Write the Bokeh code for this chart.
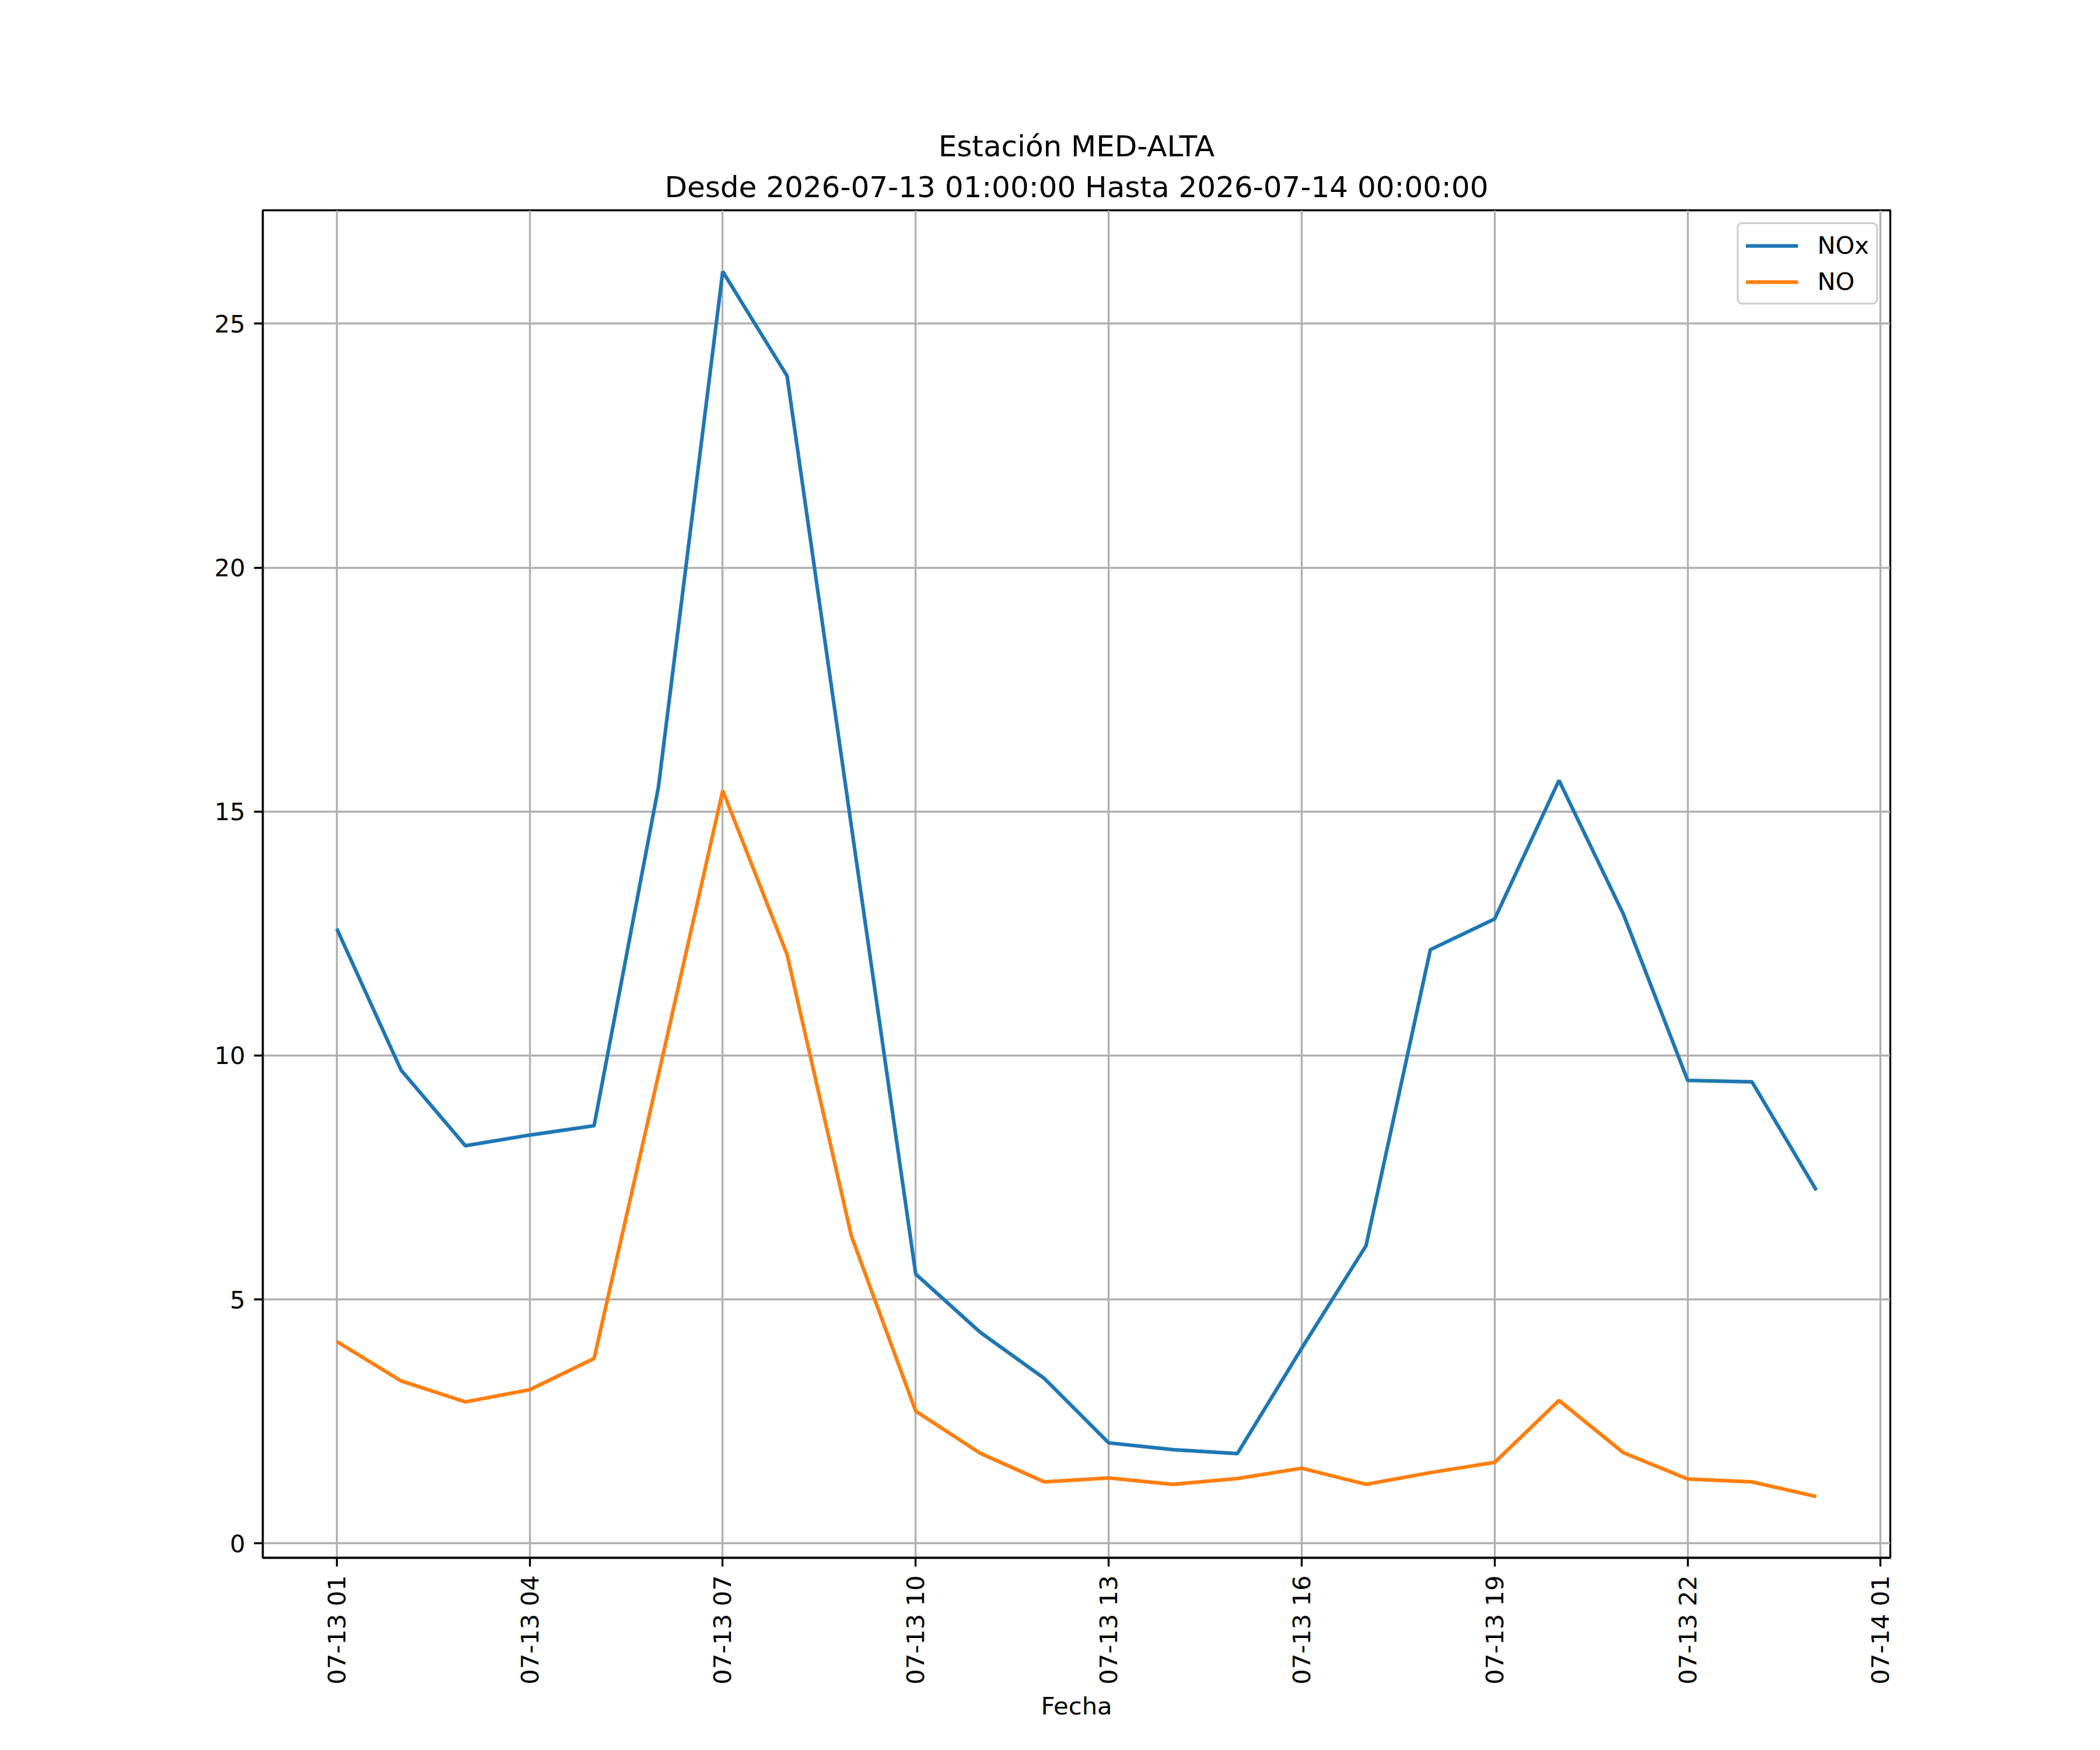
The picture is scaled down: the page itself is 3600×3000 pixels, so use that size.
import math
import pandas as pd
from bokeh.plotting import figure
from bokeh.models import (FixedTicker, DatetimeTickFormatter, Range1d, Title,
                          Legend, LegendItem, ColumnDataSource)
from bokeh.embed import file_html
from bokeh.resources import INLINE

# ---------------- data ----------------
times = [
    "2026-07-13 01:00", "2026-07-13 02:00", "2026-07-13 03:00", "2026-07-13 04:00",
    "2026-07-13 05:00", "2026-07-13 06:00", "2026-07-13 07:00", "2026-07-13 08:00",
    "2026-07-13 09:00", "2026-07-13 10:00", "2026-07-13 11:00", "2026-07-13 12:00",
    "2026-07-13 13:00", "2026-07-13 14:00", "2026-07-13 15:00", "2026-07-13 16:00",
    "2026-07-13 17:00", "2026-07-13 18:00", "2026-07-13 19:00", "2026-07-13 20:00",
    "2026-07-13 21:00", "2026-07-13 22:00", "2026-07-13 23:00", "2026-07-14 00:00",
]
nox = [12.6, 9.7, 8.15, 8.37, 8.56, 15.5, 26.07, 23.93, 14.7, 5.52, 4.33, 3.38,
       2.06, 1.92, 1.84, 4.0, 6.1, 12.17, 12.8, 15.64, 12.9, 9.49, 9.46, 7.24]
no = [4.14, 3.33, 2.9, 3.15, 3.79, 9.6, 15.43, 12.07, 6.3, 2.71, 1.85, 1.26,
      1.34, 1.21, 1.33, 1.54, 1.21, 1.45, 1.66, 2.93, 1.86, 1.32, 1.26, 0.96]
tick_times = ["2026-07-13 01:00", "2026-07-13 04:00", "2026-07-13 07:00",
              "2026-07-13 10:00", "2026-07-13 13:00", "2026-07-13 16:00",
              "2026-07-13 19:00", "2026-07-13 22:00", "2026-07-14 01:00"]
y_ticks = [0, 5, 10, 15, 20, 25]
series_names = ["NOx", "NO"]
title_line1 = "Estación MED-ALTA"
title_line2 = "Desde 2026-07-13 01:00:00 Hasta 2026-07-14 00:00:00"
x_label = "Fecha"

# ---------------- styling constants ----------------
FONT = "DejaVu Sans"
PX = 300 / 72.0          # matplotlib points -> pixels at 300 dpi
TICK_FS = f"{10 * PX:.2f}px"
TITLE_FS = f"{12 * PX:.2f}px"
BLUE = "#1f77b4"
ORANGE = "#ff7f0e"

t = pd.to_datetime(times)
src = ColumnDataSource(dict(t=t, nox=nox, no=no))

span_t = t.max() - t.min()
x0 = (t.min() - span_t * 0.05).to_pydatetime()
x1 = (t.max() + span_t * 0.05).to_pydatetime()
ymin = min(min(nox), min(no))
ymax = max(max(nox), max(no))
ypad = (ymax - ymin) * 0.05

p = figure(
    x_axis_type="datetime",
    frame_width=2790, frame_height=2310,
    min_border_left=450, min_border_right=350,
    min_border_top=360, min_border_bottom=320,
    x_range=Range1d(x0, x1), y_range=Range1d(ymin - ypad, ymax + ypad),
    output_backend="svg", toolbar_location=None, title=None,
    background_fill_color="white", border_fill_color="white",
)

r1 = p.line("t", "nox", source=src, line_color=BLUE, line_width=1.5 * PX)
r2 = p.line("t", "no", source=src, line_color=ORANGE, line_width=1.5 * PX)

# titles (inner line first, then outer)
p.add_layout(Title(text=title_line2, align="center", text_font=FONT,
                   text_font_size=TITLE_FS, text_font_style="normal",
                   text_color="black", text_line_height=0.8,
                   standoff=21), "above")
p.add_layout(Title(text=title_line1, align="center", text_font=FONT,
                   text_font_size=TITLE_FS, text_font_style="normal",
                   text_color="black", standoff=0), "above")

# axes
tick_ms = [int(v) for v in (pd.to_datetime(tick_times).astype("int64") // 10**6)]
p.xaxis.ticker = FixedTicker(ticks=tick_ms)
fmt = "%m-%d %H"
p.xaxis.formatter = DatetimeTickFormatter(
    microseconds=fmt, milliseconds=fmt, seconds=fmt, minsec=fmt, minutes=fmt,
    hourmin=fmt, hours=fmt, days=fmt, months=fmt, years=fmt)
p.xaxis.major_label_orientation = math.pi / 2
p.yaxis.ticker = FixedTicker(ticks=y_ticks)

for ax in (p.xaxis[0], p.yaxis[0]):
    ax.major_label_text_font = FONT
    ax.major_label_text_font_size = TICK_FS
    ax.major_label_text_color = "black"
    ax.major_tick_out = int(round(3.5 * PX))
    ax.major_tick_in = 0
    ax.minor_tick_out = 0
    ax.minor_tick_in = 0
    ax.major_tick_line_width = 0.8 * PX
    ax.major_tick_line_color = "black"
    ax.axis_line_color = "black"
    ax.axis_line_width = 0.8 * PX
    ax.major_label_standoff = int(round(3.5 * PX))

p.xaxis.axis_label = x_label
p.xaxis.axis_label_text_font = FONT
p.xaxis.axis_label_text_font_size = TICK_FS
p.xaxis.axis_label_text_font_style = "normal"
p.xaxis.axis_label_text_color = "black"
p.xaxis.axis_label_standoff = 9

# grid
for g in (p.xgrid[0], p.ygrid[0]):
    g.grid_line_color = "#b0b0b0"
    g.grid_line_width = 0.8 * PX

p.outline_line_color = "black"
p.outline_line_width = 0.8 * PX
p.outline_line_alpha = 1.0

# legend
legend = Legend(
    items=[LegendItem(label=series_names[0], renderers=[r1]),
           LegendItem(label=series_names[1], renderers=[r2])],
    location="top_right",
    label_text_font=FONT, label_text_font_size=TICK_FS, label_text_color="black",
    glyph_width=90, glyph_height=42, label_height=42,
    label_standoff=33,
    spacing=13, padding=12,
    margin=21,
    border_line_color="#cccccc", border_line_width=0.8 * PX,
    border_line_alpha=1.0,
    background_fill_color="white", background_fill_alpha=0.8,
    border_radius=9,
)
p.add_layout(legend)

open("out.html", "w").write(file_html(p, INLINE))
